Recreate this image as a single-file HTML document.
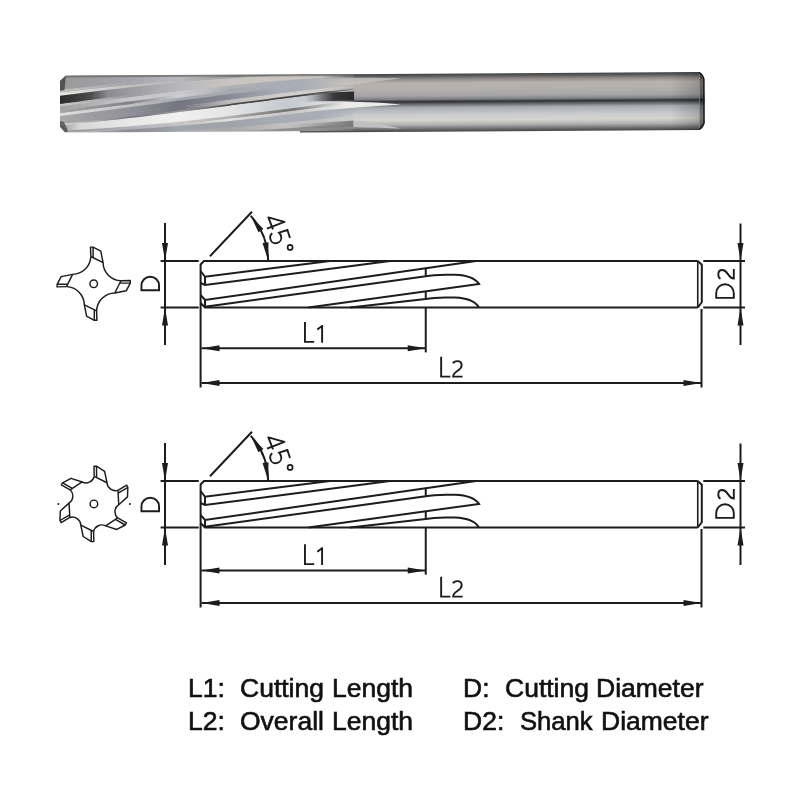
<!DOCTYPE html>
<html><head><meta charset="utf-8"><style>
html,body{margin:0;padding:0;background:#fff;width:800px;height:800px;overflow:hidden}
svg{display:block;position:absolute;left:0;top:0}
.w{position:absolute;font-family:"Liberation Sans",sans-serif;font-size:25px;white-space:pre;line-height:1;-webkit-text-stroke:0.6px #111;color:#111;transform-origin:0 0;transform:scaleX(1.06)}
</style></head><body>
<svg width="800" height="800" viewBox="0 0 800 800"><defs><linearGradient id="shank" gradientUnits="userSpaceOnUse" x1="0" y1="72" x2="0" y2="130" gradientTransform="matrix(1,-0.0065,0,1,0,4.54)">
<stop offset="0" stop-color="#404040"/>
<stop offset="0.04" stop-color="#5c5c5c"/>
<stop offset="0.09" stop-color="#8e8a88"/>
<stop offset="0.16" stop-color="#b8b2ac"/>
<stop offset="0.26" stop-color="#b4b0ae"/>
<stop offset="0.38" stop-color="#a4a4a8"/>
<stop offset="0.44" stop-color="#808084"/>
<stop offset="0.48" stop-color="#2e3034"/>
<stop offset="0.52" stop-color="#606468"/>
<stop offset="0.58" stop-color="#a8acb2"/>
<stop offset="0.70" stop-color="#c8cacc"/>
<stop offset="0.80" stop-color="#d6d4ce"/>
<stop offset="0.88" stop-color="#b0b0b0"/>
<stop offset="0.95" stop-color="#707070"/>
<stop offset="1" stop-color="#444"/>
</linearGradient>
<linearGradient id="endshade" gradientUnits="userSpaceOnUse" x1="670" y1="0" x2="699" y2="0"><stop offset="0" stop-color="#000" stop-opacity="0"/><stop offset="1" stop-color="#000" stop-opacity="0.18"/></linearGradient>
<linearGradient id="pocketR" gradientUnits="userSpaceOnUse" x1="305" y1="0" x2="353.6" y2="0">
<stop offset="0" stop-color="#8a8a90" stop-opacity="0"/>
<stop offset="0.35" stop-color="#606064" stop-opacity="0.8"/>
<stop offset="0.6" stop-color="#383838"/>
<stop offset="1" stop-color="#2a2a2a"/>
</linearGradient>
<linearGradient id="lowstep" gradientUnits="userSpaceOnUse" x1="290" y1="0" x2="353.6" y2="0">
<stop offset="0" stop-color="#808080" stop-opacity="0"/>
<stop offset="1" stop-color="#7a7a7a"/>
</linearGradient>
<clipPath id="flclip"><path d="M65.9,75.4 L353.6,74 L353.6,130.8 L65,132.6 L60,127 L60,80.7 Z"/></clipPath>
<linearGradient id="fadeR" gradientUnits="userSpaceOnUse" x1="320" y1="0" x2="354" y2="0"><stop offset="0" stop-color="#fff"/><stop offset="1" stop-color="#fff" stop-opacity="0.25"/></linearGradient>
<mask id="flmask" maskUnits="userSpaceOnUse" x="50" y="60" width="320" height="80"><rect x="50" y="60" width="270" height="80" fill="#fff"/><rect x="320" y="60" width="40" height="80" fill="url(#fadeR)"/></mask>
<filter id="soft" x="-5%" y="-20%" width="110%" height="140%"><feGaussianBlur stdDeviation="0.5"/></filter>
<linearGradient id="s0" gradientUnits="userSpaceOnUse" x1="56" y1="0" x2="358" y2="0"><stop offset="0.020" stop-color="#9a9a9a"/><stop offset="0.245" stop-color="#a4a4ac"/><stop offset="0.411" stop-color="#b8b8bc"/><stop offset="0.576" stop-color="#a8a8a8"/></linearGradient><linearGradient id="s1" gradientUnits="userSpaceOnUse" x1="56" y1="0" x2="358" y2="0"><stop offset="0.020" stop-color="#c0c0c0"/><stop offset="0.245" stop-color="#a4a4ac"/><stop offset="0.411" stop-color="#b8b8bc"/><stop offset="0.576" stop-color="#8a8a8a"/></linearGradient><linearGradient id="s2" gradientUnits="userSpaceOnUse" x1="56" y1="0" x2="358" y2="0"><stop offset="0.020" stop-color="#e8e4de"/><stop offset="0.146" stop-color="#d0d0d0"/><stop offset="0.245" stop-color="#c0c0c0"/><stop offset="0.411" stop-color="#b8b8bc"/><stop offset="0.576" stop-color="#a0a0a0"/></linearGradient><linearGradient id="s3" gradientUnits="userSpaceOnUse" x1="56" y1="0" x2="358" y2="0"><stop offset="0.013" stop-color="#2a2a2a"/><stop offset="0.046" stop-color="#343434"/><stop offset="0.113" stop-color="#4a4a4a"/><stop offset="0.172" stop-color="#8a8a90"/><stop offset="0.245" stop-color="#9a9aa0"/><stop offset="0.411" stop-color="#b8b8bc"/><stop offset="0.576" stop-color="#c8c4c0"/><stop offset="0.742" stop-color="#c8c4c0"/></linearGradient><linearGradient id="s4" gradientUnits="userSpaceOnUse" x1="56" y1="0" x2="358" y2="0"><stop offset="0.020" stop-color="#c8c8c8"/><stop offset="0.245" stop-color="#9a9aa0"/><stop offset="0.411" stop-color="#b8b8bc"/><stop offset="0.576" stop-color="#c8c4c0"/><stop offset="0.742" stop-color="#c8c4c0"/></linearGradient><linearGradient id="s5" gradientUnits="userSpaceOnUse" x1="56" y1="0" x2="358" y2="0"><stop offset="0.020" stop-color="#a0a0a0"/><stop offset="0.245" stop-color="#c8c8cc"/><stop offset="0.411" stop-color="#c8c8cc"/><stop offset="0.576" stop-color="#b0b0b8"/><stop offset="0.742" stop-color="#a8acb4"/></linearGradient><linearGradient id="s6" gradientUnits="userSpaceOnUse" x1="56" y1="0" x2="358" y2="0"><stop offset="0.020" stop-color="#a4a4a4"/><stop offset="0.245" stop-color="#808088"/><stop offset="0.411" stop-color="#d0d0d0"/><stop offset="0.576" stop-color="#a8a8b0"/><stop offset="0.742" stop-color="#a8acb4"/></linearGradient><linearGradient id="s7" gradientUnits="userSpaceOnUse" x1="56" y1="0" x2="358" y2="0"><stop offset="0.020" stop-color="#e0e0e0"/><stop offset="0.245" stop-color="#c0c0c0"/><stop offset="0.411" stop-color="#a0a8b0"/><stop offset="0.576" stop-color="#a8a8b0"/><stop offset="0.742" stop-color="#a8acb4"/></linearGradient><linearGradient id="s8" gradientUnits="userSpaceOnUse" x1="56" y1="0" x2="358" y2="0"><stop offset="0.020" stop-color="#a8a8a8"/><stop offset="0.245" stop-color="#909098"/><stop offset="0.411" stop-color="#74747e"/><stop offset="0.576" stop-color="#8a8a98"/><stop offset="0.742" stop-color="#a8acb4"/></linearGradient><linearGradient id="s9" gradientUnits="userSpaceOnUse" x1="56" y1="0" x2="358" y2="0"><stop offset="0.020" stop-color="#a8a8a8"/><stop offset="0.245" stop-color="#909098"/><stop offset="0.411" stop-color="#74747e"/><stop offset="0.576" stop-color="#c0bcb8"/><stop offset="0.742" stop-color="#d0ccc8"/></linearGradient><linearGradient id="s10" gradientUnits="userSpaceOnUse" x1="56" y1="0" x2="358" y2="0"><stop offset="0.020" stop-color="#e0e0e0"/><stop offset="0.146" stop-color="#a0a0a0"/><stop offset="0.245" stop-color="#70707a"/><stop offset="0.411" stop-color="#989898"/><stop offset="0.576" stop-color="#484848"/><stop offset="0.742" stop-color="#404048"/></linearGradient><linearGradient id="s11" gradientUnits="userSpaceOnUse" x1="56" y1="0" x2="358" y2="0"><stop offset="0.020" stop-color="#a0a0a0"/><stop offset="0.079" stop-color="#d8d8d8"/><stop offset="0.245" stop-color="#e8e8e8"/><stop offset="0.411" stop-color="#f0f0f0"/><stop offset="0.576" stop-color="#e4e4e4"/><stop offset="0.742" stop-color="#c8ccd0"/></linearGradient><linearGradient id="s12" gradientUnits="userSpaceOnUse" x1="56" y1="0" x2="358" y2="0"><stop offset="0.020" stop-color="#909090"/><stop offset="0.245" stop-color="#b0b0b8"/><stop offset="0.411" stop-color="#c8c8c8"/><stop offset="0.576" stop-color="#b0b0b0"/><stop offset="0.742" stop-color="#787878"/></linearGradient><linearGradient id="s13" gradientUnits="userSpaceOnUse" x1="56" y1="0" x2="358" y2="0"><stop offset="0.020" stop-color="#a0a0a0"/><stop offset="0.245" stop-color="#b0b0b8"/><stop offset="0.411" stop-color="#c0c0c0"/><stop offset="0.576" stop-color="#e0e0e0"/><stop offset="0.742" stop-color="#c8c8c8"/></linearGradient><linearGradient id="s14" gradientUnits="userSpaceOnUse" x1="56" y1="0" x2="358" y2="0"><stop offset="0.020" stop-color="#d0d0d0"/><stop offset="0.245" stop-color="#8a8a92"/><stop offset="0.411" stop-color="#a0a4ac"/><stop offset="0.576" stop-color="#a0a4a8"/><stop offset="0.742" stop-color="#a8acb4"/></linearGradient><linearGradient id="s15" gradientUnits="userSpaceOnUse" x1="56" y1="0" x2="358" y2="0"><stop offset="0.020" stop-color="#c0c0c0"/><stop offset="0.245" stop-color="#707078"/><stop offset="0.411" stop-color="#b0b0b0"/><stop offset="0.576" stop-color="#a8a8a8"/><stop offset="0.742" stop-color="#c0c0c0"/></linearGradient><linearGradient id="s16" gradientUnits="userSpaceOnUse" x1="56" y1="0" x2="358" y2="0"><stop offset="0.020" stop-color="#a0a0a0"/><stop offset="0.245" stop-color="#606068"/><stop offset="0.411" stop-color="#a0a0a0"/><stop offset="0.576" stop-color="#a0a0a0"/><stop offset="0.742" stop-color="#909090"/></linearGradient></defs>
<path d="M300,74.6 L699,72 L704.5,79 L704.5,123 L699,130 L300,132.6 Z" fill="url(#shank)"/>
<rect x="670" y="72" width="29" height="58" fill="url(#endshade)"/>
<path d="M699,72 Q703,74.5 704.2,79 L704.5,123 Q703,127.5 699,130 Z" fill="url(#shank)"/>
<path d="M699,72 Q703,74.5 704.2,79 L704.5,123 Q703,127.5 699,130 Z" fill="#000" opacity="0.45"/>
<path d="M699.3,72.5 Q703,74.8 703.8,79 L704,123 Q703,127.2 699.3,129.5" fill="none" stroke="#1a1a1a" stroke-width="1.4"/>
<line x1="699.6" y1="74" x2="699.6" y2="128" stroke="#d0d0d0" stroke-width="0.8" opacity="0.5"/>
<g clip-path="url(#flclip)">
<g filter="url(#soft)">
<g mask="url(#flmask)"><path d="M56,75.87 L60,75.71 L64,75.56 L68,75.41 L72,75.28 L76,75.15 L80,75.03 L84,74.92 L88,74.82 L92,74.74 L96,74.65 L100,74.58 L104,74.52 L108,74.47 L112,74.43 L116,74.39 L120,74.37 L124,74.36 L128,74.35 L132,74.35 L136,74.35 L140,74.35 L144,74.35 L148,74.35 L152,74.35 L156,74.35 L160,74.35 L164,74.35 L168,74.35 L172,74.35 L176,74.35 L180,74.35 L184,74.35 L188,74.35 L192,74.35 L196,74.35 L200,74.35 L204,74.35 L208,74.35 L212,74.35 L216,74.35 L220,74.35 L224,74.35 L228,74.35 L232,74.35 L236,74.35 L240,74.35 L244,74.35 L248,74.35 L252,74.35 L256,74.35 L260,74.35 L264,74.35 L268,74.35 L272,74.35 L276,74.35 L280,74.35 L284,74.35 L288,74.35 L292,74.35 L296,74.35 L300,74.35 L304,74.35 L308,74.35 L312,74.35 L316,74.35 L320,74.35 L324,74.35 L328,74.35 L332,74.35 L336,74.35 L340,74.35 L344,74.35 L348,74.35 L352,74.35 L356,74.35 L358,74.35 L358,74.85 L356,74.85 L352,74.85 L348,74.85 L344,74.85 L340,74.85 L336,74.85 L332,74.85 L328,74.85 L324,74.85 L320,74.85 L316,74.85 L312,74.85 L308,74.85 L304,74.85 L300,74.85 L296,74.86 L292,74.88 L288,74.90 L284,74.94 L280,74.99 L276,75.04 L272,75.11 L268,75.18 L264,75.26 L260,75.36 L256,75.46 L252,75.57 L248,75.69 L244,75.82 L240,75.96 L236,76.11 L232,76.27 L228,76.43 L224,76.61 L220,76.79 L216,76.98 L212,77.18 L208,77.39 L204,77.61 L200,77.84 L196,78.08 L192,78.32 L188,78.57 L184,78.84 L180,79.10 L176,79.38 L172,79.67 L168,79.96 L164,80.26 L160,80.57 L156,80.89 L152,81.21 L148,81.54 L144,81.88 L140,82.22 L136,82.58 L132,82.94 L128,83.30 L124,83.68 L120,84.06 L116,84.44 L112,84.84 L108,85.23 L104,85.64 L100,86.05 L96,86.47 L92,86.89 L88,87.32 L84,87.75 L80,88.19 L76,88.63 L72,89.08 L68,89.54 L64,89.99 L60,90.46 L56,90.92Z" fill="url(#s0)"/><path d="M56,90.42 L60,89.96 L64,89.49 L68,89.04 L72,88.58 L76,88.13 L80,87.69 L84,87.25 L88,86.82 L92,86.39 L96,85.97 L100,85.55 L104,85.14 L108,84.73 L112,84.34 L116,83.94 L120,83.56 L124,83.18 L128,82.80 L132,82.44 L136,82.08 L140,81.72 L144,81.38 L148,81.04 L152,80.71 L156,80.39 L160,80.07 L164,79.76 L168,79.46 L172,79.17 L176,78.88 L180,78.60 L184,78.34 L188,78.07 L192,77.82 L196,77.58 L200,77.34 L204,77.11 L208,76.89 L212,76.68 L216,76.48 L220,76.29 L224,76.11 L228,75.93 L232,75.77 L236,75.61 L240,75.46 L244,75.32 L248,75.19 L252,75.07 L256,74.96 L260,74.86 L264,74.76 L268,74.68 L272,74.61 L276,74.54 L280,74.49 L284,74.44 L288,74.40 L292,74.38 L296,74.36 L300,74.35 L304,74.35 L308,74.35 L312,74.35 L316,74.35 L320,74.35 L324,74.35 L328,74.35 L332,74.35 L336,74.35 L340,74.35 L344,74.35 L348,74.35 L352,74.35 L356,74.35 L358,74.35 L358,74.85 L356,74.85 L352,74.85 L348,74.85 L344,74.85 L340,74.85 L336,74.85 L332,74.85 L328,74.85 L324,74.85 L320,74.86 L316,74.88 L312,74.91 L308,74.94 L304,74.99 L300,75.05 L296,75.11 L292,75.19 L288,75.27 L284,75.37 L280,75.47 L276,75.58 L272,75.71 L268,75.84 L264,75.98 L260,76.12 L256,76.28 L252,76.45 L248,76.63 L244,76.81 L240,77.00 L236,77.21 L232,77.42 L228,77.64 L224,77.87 L220,78.10 L216,78.35 L212,78.60 L208,78.86 L204,79.13 L200,79.41 L196,79.70 L192,79.99 L188,80.29 L184,80.60 L180,80.92 L176,81.25 L172,81.58 L168,81.92 L164,82.26 L160,82.62 L156,82.98 L152,83.34 L148,83.72 L144,84.10 L140,84.49 L136,84.88 L132,85.28 L128,85.68 L124,86.10 L120,86.51 L116,86.94 L112,87.37 L108,87.80 L104,88.24 L100,88.68 L96,89.13 L92,89.59 L88,90.05 L84,90.51 L80,90.98 L76,91.45 L72,91.93 L68,92.41 L64,92.89 L60,93.38 L56,93.87Z" fill="url(#s1)"/><path d="M56,93.37 L60,92.88 L64,92.39 L68,91.91 L72,91.43 L76,90.95 L80,90.48 L84,90.01 L88,89.55 L92,89.09 L96,88.63 L100,88.18 L104,87.74 L108,87.30 L112,86.87 L116,86.44 L120,86.01 L124,85.60 L128,85.18 L132,84.78 L136,84.38 L140,83.99 L144,83.60 L148,83.22 L152,82.84 L156,82.48 L160,82.12 L164,81.76 L168,81.42 L172,81.08 L176,80.75 L180,80.42 L184,80.10 L188,79.79 L192,79.49 L196,79.20 L200,78.91 L204,78.63 L208,78.36 L212,78.10 L216,77.85 L220,77.60 L224,77.37 L228,77.14 L232,76.92 L236,76.71 L240,76.50 L244,76.31 L248,76.13 L252,75.95 L256,75.78 L260,75.62 L264,75.48 L268,75.34 L272,75.21 L276,75.08 L280,74.97 L284,74.87 L288,74.77 L292,74.69 L296,74.61 L300,74.55 L304,74.49 L308,74.44 L312,74.41 L316,74.38 L320,74.36 L324,74.35 L328,74.35 L332,74.35 L336,74.35 L340,74.35 L344,74.35 L348,74.35 L352,74.35 L356,74.35 L358,74.35 L358,74.85 L356,74.85 L352,74.85 L348,74.85 L344,74.86 L340,74.87 L336,74.89 L332,74.93 L328,74.97 L324,75.02 L320,75.08 L316,75.15 L312,75.24 L308,75.32 L304,75.42 L300,75.53 L296,75.65 L292,75.78 L288,75.91 L284,76.06 L280,76.21 L276,76.37 L272,76.55 L268,76.73 L264,76.92 L260,77.12 L256,77.32 L252,77.54 L248,77.76 L244,78.00 L240,78.24 L236,78.49 L232,78.75 L228,79.01 L224,79.29 L220,79.57 L216,79.86 L212,80.16 L208,80.47 L204,80.78 L200,81.10 L196,81.43 L192,81.77 L188,82.11 L184,82.46 L180,82.82 L176,83.18 L172,83.55 L168,83.93 L164,84.31 L160,84.70 L156,85.10 L152,85.50 L148,85.91 L144,86.33 L140,86.75 L136,87.17 L132,87.61 L128,88.04 L124,88.48 L120,88.93 L116,89.38 L112,89.84 L108,90.30 L104,90.77 L100,91.24 L96,91.71 L92,92.19 L88,92.67 L84,93.16 L80,93.65 L76,94.14 L72,94.64 L68,95.14 L64,95.64 L60,96.14 L56,96.65Z" fill="url(#s2)"/><path d="M56,96.15 L60,95.64 L64,95.14 L68,94.64 L72,94.14 L76,93.64 L80,93.15 L84,92.66 L88,92.17 L92,91.69 L96,91.21 L100,90.74 L104,90.27 L108,89.80 L112,89.34 L116,88.88 L120,88.43 L124,87.98 L128,87.54 L132,87.11 L136,86.67 L140,86.25 L144,85.83 L148,85.41 L152,85.00 L156,84.60 L160,84.20 L164,83.81 L168,83.43 L172,83.05 L176,82.68 L180,82.32 L184,81.96 L188,81.61 L192,81.27 L196,80.93 L200,80.60 L204,80.28 L208,79.97 L212,79.66 L216,79.36 L220,79.07 L224,78.79 L228,78.51 L232,78.25 L236,77.99 L240,77.74 L244,77.50 L248,77.26 L252,77.04 L256,76.82 L260,76.62 L264,76.42 L268,76.23 L272,76.05 L276,75.87 L280,75.71 L284,75.56 L288,75.41 L292,75.28 L296,75.15 L300,75.03 L304,74.92 L308,74.82 L312,74.74 L316,74.65 L320,74.58 L324,74.52 L328,74.47 L332,74.43 L336,74.39 L340,74.37 L344,74.36 L348,74.35 L352,74.35 L356,74.35 L358,74.35 L358,75.73 L356,75.79 L352,75.93 L348,76.07 L344,76.23 L340,76.39 L336,76.57 L332,76.75 L328,76.94 L324,77.14 L320,77.35 L316,77.56 L312,77.79 L308,78.02 L304,78.27 L300,78.52 L296,78.78 L292,79.04 L288,79.32 L284,79.60 L280,79.89 L276,80.19 L272,80.50 L268,80.81 L264,81.14 L260,81.47 L256,81.80 L252,82.15 L248,82.50 L244,82.86 L240,83.22 L236,83.59 L232,83.97 L228,84.36 L224,84.75 L220,85.15 L216,85.55 L212,85.96 L208,86.37 L204,86.80 L200,87.22 L196,87.65 L192,88.09 L188,88.53 L184,88.98 L180,89.43 L176,89.89 L172,90.35 L168,90.82 L164,91.29 L160,91.77 L156,92.24 L152,92.73 L148,93.21 L144,93.70 L140,94.20 L136,94.69 L132,95.19 L128,95.69 L124,96.20 L120,96.71 L116,97.22 L112,97.73 L108,98.24 L104,98.76 L100,99.28 L96,99.80 L92,100.32 L88,100.84 L84,101.36 L80,101.89 L76,102.41 L72,102.93 L68,103.46 L64,103.99 L60,104.51 L56,105.04Z" fill="url(#s3)"/><path d="M56,104.54 L60,104.01 L64,103.49 L68,102.96 L72,102.43 L76,101.91 L80,101.39 L84,100.86 L88,100.34 L92,99.82 L96,99.30 L100,98.78 L104,98.26 L108,97.74 L112,97.23 L116,96.72 L120,96.21 L124,95.70 L128,95.19 L132,94.69 L136,94.19 L140,93.70 L144,93.20 L148,92.71 L152,92.23 L156,91.74 L160,91.27 L164,90.79 L168,90.32 L172,89.85 L176,89.39 L180,88.93 L184,88.48 L188,88.03 L192,87.59 L196,87.15 L200,86.72 L204,86.30 L208,85.87 L212,85.46 L216,85.05 L220,84.65 L224,84.25 L228,83.86 L232,83.47 L236,83.09 L240,82.72 L244,82.36 L248,82.00 L252,81.65 L256,81.30 L260,80.97 L264,80.64 L268,80.31 L272,80.00 L276,79.69 L280,79.39 L284,79.10 L288,78.82 L292,78.54 L296,78.28 L300,78.02 L304,77.77 L308,77.52 L312,77.29 L316,77.06 L320,76.85 L324,76.64 L328,76.44 L332,76.25 L336,76.07 L340,75.89 L344,75.73 L348,75.57 L352,75.43 L356,75.29 L358,75.23 L358,76.38 L356,76.47 L352,76.65 L348,76.83 L344,77.03 L340,77.23 L336,77.44 L332,77.66 L328,77.89 L324,78.13 L320,78.38 L316,78.63 L312,78.89 L308,79.17 L304,79.44 L300,79.73 L296,80.03 L292,80.33 L288,80.64 L284,80.96 L280,81.28 L276,81.62 L272,81.96 L268,82.30 L264,82.66 L260,83.02 L256,83.39 L252,83.76 L248,84.14 L244,84.53 L240,84.92 L236,85.32 L232,85.73 L228,86.14 L224,86.56 L220,86.98 L216,87.41 L212,87.85 L208,88.29 L204,88.73 L200,89.18 L196,89.64 L192,90.10 L188,90.56 L184,91.03 L180,91.50 L176,91.98 L172,92.46 L168,92.94 L164,93.43 L160,93.92 L156,94.42 L152,94.91 L148,95.42 L144,95.92 L140,96.42 L136,96.93 L132,97.44 L128,97.96 L124,98.47 L120,98.99 L116,99.51 L112,100.03 L108,100.55 L104,101.07 L100,101.59 L96,102.12 L92,102.64 L88,103.17 L84,103.69 L80,104.22 L76,104.74 L72,105.27 L68,105.80 L64,106.32 L60,106.84 L56,107.37Z" fill="url(#s4)"/><path d="M56,106.87 L60,106.34 L64,105.82 L68,105.30 L72,104.77 L76,104.24 L80,103.72 L84,103.19 L88,102.67 L92,102.14 L96,101.62 L100,101.09 L104,100.57 L108,100.05 L112,99.53 L116,99.01 L120,98.49 L124,97.97 L128,97.46 L132,96.94 L136,96.43 L140,95.92 L144,95.42 L148,94.92 L152,94.41 L156,93.92 L160,93.42 L164,92.93 L168,92.44 L172,91.96 L176,91.48 L180,91.00 L184,90.53 L188,90.06 L192,89.60 L196,89.14 L200,88.68 L204,88.23 L208,87.79 L212,87.35 L216,86.91 L220,86.48 L224,86.06 L228,85.64 L232,85.23 L236,84.82 L240,84.42 L244,84.03 L248,83.64 L252,83.26 L256,82.89 L260,82.52 L264,82.16 L268,81.80 L272,81.46 L276,81.12 L280,80.78 L284,80.46 L288,80.14 L292,79.83 L296,79.53 L300,79.23 L304,78.94 L308,78.67 L312,78.39 L316,78.13 L320,77.88 L324,77.63 L328,77.39 L332,77.16 L336,76.94 L340,76.73 L344,76.53 L348,76.33 L352,76.15 L356,75.97 L358,75.88 L358,77.96 L356,78.08 L352,78.32 L348,78.57 L344,78.84 L340,79.10 L336,79.38 L332,79.67 L328,79.96 L324,80.26 L320,80.57 L316,80.89 L312,81.21 L308,81.54 L304,81.88 L300,82.22 L296,82.58 L292,82.94 L288,83.30 L284,83.68 L280,84.06 L276,84.44 L272,84.84 L268,85.23 L264,85.64 L260,86.05 L256,86.47 L252,86.89 L248,87.32 L244,87.75 L240,88.19 L236,88.63 L232,89.08 L228,89.54 L224,89.99 L220,90.46 L216,90.92 L212,91.40 L208,91.87 L204,92.35 L200,92.84 L196,93.32 L192,93.81 L188,94.31 L184,94.80 L180,95.30 L176,95.81 L172,96.31 L168,96.82 L164,97.33 L160,97.84 L156,98.36 L152,98.87 L148,99.39 L144,99.91 L140,100.43 L136,100.95 L132,101.48 L128,102.00 L124,102.53 L120,103.05 L116,103.58 L112,104.10 L108,104.63 L104,105.15 L100,105.68 L96,106.20 L92,106.73 L88,107.25 L84,107.77 L80,108.29 L76,108.81 L72,109.33 L68,109.85 L64,110.36 L60,110.87 L56,111.38Z" fill="url(#s5)"/><path d="M56,110.88 L60,110.37 L64,109.86 L68,109.35 L72,108.83 L76,108.31 L80,107.79 L84,107.27 L88,106.75 L92,106.23 L96,105.70 L100,105.18 L104,104.65 L108,104.13 L112,103.60 L116,103.08 L120,102.55 L124,102.03 L128,101.50 L132,100.98 L136,100.45 L140,99.93 L144,99.41 L148,98.89 L152,98.37 L156,97.86 L160,97.34 L164,96.83 L168,96.32 L172,95.81 L176,95.31 L180,94.80 L184,94.30 L188,93.81 L192,93.31 L196,92.82 L200,92.34 L204,91.85 L208,91.37 L212,90.90 L216,90.42 L220,89.96 L224,89.49 L228,89.04 L232,88.58 L236,88.13 L240,87.69 L244,87.25 L248,86.82 L252,86.39 L256,85.97 L260,85.55 L264,85.14 L268,84.73 L272,84.34 L276,83.94 L280,83.56 L284,83.18 L288,82.80 L292,82.44 L296,82.08 L300,81.72 L304,81.38 L308,81.04 L312,80.71 L316,80.39 L320,80.07 L324,79.76 L328,79.46 L332,79.17 L336,78.88 L340,78.60 L344,78.34 L348,78.07 L352,77.82 L356,77.58 L358,77.46 L358,79.40 L356,79.54 L352,79.83 L348,80.13 L344,80.43 L340,80.74 L336,81.06 L332,81.39 L328,81.73 L324,82.07 L320,82.42 L316,82.78 L312,83.14 L308,83.51 L304,83.89 L300,84.27 L296,84.66 L292,85.06 L288,85.46 L284,85.87 L280,86.28 L276,86.70 L272,87.13 L268,87.56 L264,87.99 L260,88.44 L256,88.88 L252,89.33 L248,89.79 L244,90.25 L240,90.72 L236,91.19 L232,91.66 L228,92.14 L224,92.62 L220,93.11 L216,93.59 L212,94.09 L208,94.58 L204,95.08 L200,95.58 L196,96.09 L192,96.59 L188,97.10 L184,97.61 L180,98.13 L176,98.64 L172,99.16 L168,99.68 L164,100.20 L160,100.72 L156,101.25 L152,101.77 L148,102.29 L144,102.82 L140,103.34 L136,103.87 L132,104.39 L128,104.92 L124,105.45 L120,105.97 L116,106.49 L112,107.02 L108,107.54 L104,108.06 L100,108.58 L96,109.10 L92,109.62 L88,110.13 L84,110.64 L80,111.16 L76,111.66 L72,112.17 L68,112.67 L64,113.17 L60,113.67 L56,114.17Z" fill="url(#s6)"/><path d="M56,113.67 L60,113.17 L64,112.67 L68,112.17 L72,111.67 L76,111.16 L80,110.66 L84,110.14 L88,109.63 L92,109.12 L96,108.60 L100,108.08 L104,107.56 L108,107.04 L112,106.52 L116,105.99 L120,105.47 L124,104.95 L128,104.42 L132,103.89 L136,103.37 L140,102.84 L144,102.32 L148,101.79 L152,101.27 L156,100.75 L160,100.22 L164,99.70 L168,99.18 L172,98.66 L176,98.14 L180,97.63 L184,97.11 L188,96.60 L192,96.09 L196,95.59 L200,95.08 L204,94.58 L208,94.08 L212,93.59 L216,93.09 L220,92.61 L224,92.12 L228,91.64 L232,91.16 L236,90.69 L240,90.22 L244,89.75 L248,89.29 L252,88.83 L256,88.38 L260,87.94 L264,87.49 L268,87.06 L272,86.63 L276,86.20 L280,85.78 L284,85.37 L288,84.96 L292,84.56 L296,84.16 L300,83.77 L304,83.39 L308,83.01 L312,82.64 L316,82.28 L320,81.92 L324,81.57 L328,81.23 L332,80.89 L336,80.56 L340,80.24 L344,79.93 L348,79.63 L352,79.33 L356,79.04 L358,78.90 L358,81.08 L356,81.25 L352,81.58 L348,81.92 L344,82.26 L340,82.62 L336,82.98 L332,83.34 L328,83.72 L324,84.10 L320,84.49 L316,84.88 L312,85.28 L308,85.68 L304,86.10 L300,86.51 L296,86.94 L292,87.37 L288,87.80 L284,88.24 L280,88.68 L276,89.13 L272,89.59 L268,90.05 L264,90.51 L260,90.98 L256,91.45 L252,91.93 L248,92.41 L244,92.89 L240,93.38 L236,93.87 L232,94.36 L228,94.86 L224,95.36 L220,95.86 L216,96.37 L212,96.88 L208,97.39 L204,97.90 L200,98.41 L196,98.93 L192,99.45 L188,99.97 L184,100.49 L180,101.01 L176,101.54 L172,102.06 L168,102.58 L164,103.11 L160,103.64 L156,104.16 L152,104.69 L148,105.21 L144,105.74 L140,106.26 L136,106.78 L132,107.31 L128,107.83 L124,108.35 L120,108.87 L116,109.39 L112,109.90 L108,110.42 L104,110.93 L100,111.44 L96,111.95 L92,112.45 L88,112.95 L84,113.45 L80,113.95 L76,114.44 L72,114.93 L68,115.42 L64,115.90 L60,116.38 L56,116.85Z" fill="url(#s7)"/><path d="M56,116.35 L60,115.88 L64,115.40 L68,114.92 L72,114.43 L76,113.94 L80,113.45 L84,112.95 L88,112.45 L92,111.95 L96,111.45 L100,110.94 L104,110.43 L108,109.92 L112,109.40 L116,108.89 L120,108.37 L124,107.85 L128,107.33 L132,106.81 L136,106.28 L140,105.76 L144,105.24 L148,104.71 L152,104.19 L156,103.66 L160,103.14 L164,102.61 L168,102.08 L172,101.56 L176,101.04 L180,100.51 L184,99.99 L188,99.47 L192,98.95 L196,98.43 L200,97.91 L204,97.40 L208,96.89 L212,96.38 L216,95.87 L220,95.36 L224,94.86 L228,94.36 L232,93.86 L236,93.37 L240,92.88 L244,92.39 L248,91.91 L252,91.43 L256,90.95 L260,90.48 L264,90.01 L268,89.55 L272,89.09 L276,88.63 L280,88.18 L284,87.74 L288,87.30 L292,86.87 L296,86.44 L300,86.01 L304,85.60 L308,85.18 L312,84.78 L316,84.38 L320,83.99 L324,83.60 L328,83.22 L332,82.84 L336,82.48 L340,82.12 L344,81.76 L348,81.42 L352,81.08 L356,80.75 L358,80.58 L358,85.12 L356,85.32 L352,85.73 L348,86.14 L344,86.56 L340,86.98 L336,87.41 L332,87.85 L328,88.29 L324,88.73 L320,89.18 L316,89.64 L312,90.10 L308,90.56 L304,91.03 L300,91.50 L296,91.98 L292,92.46 L288,92.94 L284,93.43 L280,93.92 L276,94.42 L272,94.91 L268,95.42 L264,95.92 L260,96.42 L256,96.93 L252,97.44 L248,97.96 L244,98.47 L240,98.99 L236,99.51 L232,100.03 L228,100.55 L224,101.07 L220,101.59 L216,102.12 L212,102.64 L208,103.17 L204,103.69 L200,104.22 L196,104.74 L192,105.27 L188,105.80 L184,106.32 L180,106.84 L176,107.37 L172,107.89 L168,108.41 L164,108.93 L160,109.44 L156,109.96 L152,110.47 L148,110.99 L144,111.49 L140,112.00 L136,112.51 L132,113.01 L128,113.51 L124,114.00 L120,114.49 L116,114.98 L112,115.47 L108,115.95 L104,116.43 L100,116.90 L96,117.37 L92,117.84 L88,118.30 L84,118.76 L80,119.21 L76,119.65 L72,120.10 L68,120.53 L64,120.96 L60,121.39 L56,121.81Z" fill="url(#s8)"/><path d="M56,121.31 L60,120.89 L64,120.46 L68,120.03 L72,119.60 L76,119.15 L80,118.71 L84,118.26 L88,117.80 L92,117.34 L96,116.87 L100,116.40 L104,115.93 L108,115.45 L112,114.97 L116,114.48 L120,113.99 L124,113.50 L128,113.01 L132,112.51 L136,112.01 L140,111.50 L144,110.99 L148,110.49 L152,109.97 L156,109.46 L160,108.94 L164,108.43 L168,107.91 L172,107.39 L176,106.87 L180,106.34 L184,105.82 L188,105.30 L192,104.77 L196,104.24 L200,103.72 L204,103.19 L208,102.67 L212,102.14 L216,101.62 L220,101.09 L224,100.57 L228,100.05 L232,99.53 L236,99.01 L240,98.49 L244,97.97 L248,97.46 L252,96.94 L256,96.43 L260,95.92 L264,95.42 L268,94.92 L272,94.41 L276,93.92 L280,93.42 L284,92.93 L288,92.44 L292,91.96 L296,91.48 L300,91.00 L304,90.53 L308,90.06 L312,89.60 L316,89.14 L320,88.68 L324,88.23 L328,87.79 L332,87.35 L336,86.91 L340,86.48 L344,86.06 L348,85.64 L352,85.23 L356,84.82 L358,84.62 L358,88.41 L356,88.63 L352,89.08 L348,89.54 L344,89.99 L340,90.46 L336,90.92 L332,91.40 L328,91.87 L324,92.35 L320,92.84 L316,93.32 L312,93.81 L308,94.31 L304,94.80 L300,95.30 L296,95.81 L292,96.31 L288,96.82 L284,97.33 L280,97.84 L276,98.36 L272,98.87 L268,99.39 L264,99.91 L260,100.43 L256,100.95 L252,101.48 L248,102.00 L244,102.53 L240,103.05 L236,103.58 L232,104.10 L228,104.63 L224,105.15 L220,105.68 L216,106.20 L212,106.73 L208,107.25 L204,107.77 L200,108.29 L196,108.81 L192,109.33 L188,109.85 L184,110.36 L180,110.87 L176,111.38 L172,111.89 L168,112.39 L164,112.90 L160,113.40 L156,113.89 L152,114.39 L148,114.88 L144,115.36 L140,115.84 L136,116.32 L132,116.80 L128,117.27 L124,117.74 L120,118.20 L116,118.65 L112,119.11 L108,119.56 L104,120.00 L100,120.44 L96,120.87 L92,121.30 L88,121.72 L84,122.13 L80,122.54 L76,122.95 L72,123.34 L68,123.73 L64,124.12 L60,124.50 L56,124.87Z" fill="url(#s9)"/><path d="M56,124.37 L60,124.00 L64,123.62 L68,123.23 L72,122.84 L76,122.45 L80,122.04 L84,121.63 L88,121.22 L92,120.80 L96,120.37 L100,119.94 L104,119.50 L108,119.06 L112,118.61 L116,118.15 L120,117.70 L124,117.24 L128,116.77 L132,116.30 L136,115.82 L140,115.34 L144,114.86 L148,114.38 L152,113.89 L156,113.39 L160,112.90 L164,112.40 L168,111.89 L172,111.39 L176,110.88 L180,110.37 L184,109.86 L188,109.35 L192,108.83 L196,108.31 L200,107.79 L204,107.27 L208,106.75 L212,106.23 L216,105.70 L220,105.18 L224,104.65 L228,104.13 L232,103.60 L236,103.08 L240,102.55 L244,102.03 L248,101.50 L252,100.98 L256,100.45 L260,99.93 L264,99.41 L268,98.89 L272,98.37 L276,97.86 L280,97.34 L284,96.83 L288,96.32 L292,95.81 L296,95.31 L300,94.80 L304,94.30 L308,93.81 L312,93.31 L316,92.82 L320,92.34 L324,91.85 L328,91.37 L332,90.90 L336,90.42 L340,89.96 L344,89.49 L348,89.04 L352,88.58 L356,88.13 L358,87.91 L358,89.92 L356,90.15 L352,90.61 L348,91.08 L344,91.55 L340,92.03 L336,92.51 L332,93.00 L328,93.49 L324,93.98 L320,94.47 L316,94.97 L312,95.47 L308,95.97 L304,96.48 L300,96.99 L296,97.50 L292,98.01 L288,98.53 L284,99.05 L280,99.57 L276,100.09 L272,100.61 L268,101.13 L264,101.65 L260,102.18 L256,102.70 L252,103.23 L248,103.75 L244,104.28 L240,104.80 L236,105.33 L232,105.85 L228,106.38 L224,106.90 L220,107.42 L216,107.95 L212,108.47 L208,108.98 L204,109.50 L200,110.02 L196,110.53 L192,111.04 L188,111.55 L184,112.06 L180,112.56 L176,113.06 L172,113.56 L168,114.06 L164,114.55 L160,115.04 L156,115.52 L152,116.00 L148,116.48 L144,116.96 L140,117.42 L136,117.89 L132,118.35 L128,118.81 L124,119.26 L120,119.70 L116,120.14 L112,120.58 L108,121.01 L104,121.44 L100,121.86 L96,122.27 L92,122.68 L88,123.08 L84,123.47 L80,123.86 L76,124.25 L72,124.62 L68,124.99 L64,125.36 L60,125.71 L56,126.06Z" fill="url(#s10)"/><path d="M56,125.56 L60,125.21 L64,124.86 L68,124.49 L72,124.12 L76,123.75 L80,123.36 L84,122.97 L88,122.58 L92,122.18 L96,121.77 L100,121.36 L104,120.94 L108,120.51 L112,120.08 L116,119.64 L120,119.20 L124,118.76 L128,118.31 L132,117.85 L136,117.39 L140,116.92 L144,116.46 L148,115.98 L152,115.50 L156,115.02 L160,114.54 L164,114.05 L168,113.56 L172,113.06 L176,112.56 L180,112.06 L184,111.56 L188,111.05 L192,110.54 L196,110.03 L200,109.52 L204,109.00 L208,108.48 L212,107.97 L216,107.45 L220,106.92 L224,106.40 L228,105.88 L232,105.35 L236,104.83 L240,104.30 L244,103.78 L248,103.25 L252,102.73 L256,102.20 L260,101.68 L264,101.15 L268,100.63 L272,100.11 L276,99.59 L280,99.07 L284,98.55 L288,98.03 L292,97.51 L296,97.00 L300,96.49 L304,95.98 L308,95.47 L312,94.97 L316,94.47 L320,93.97 L324,93.48 L328,92.99 L332,92.50 L336,92.01 L340,91.53 L344,91.05 L348,90.58 L352,90.11 L356,89.65 L358,89.42 L358,100.11 L356,100.37 L352,100.90 L348,101.42 L344,101.94 L340,102.47 L336,102.99 L332,103.52 L328,104.04 L324,104.57 L320,105.10 L316,105.62 L312,106.14 L308,106.67 L304,107.19 L300,107.71 L296,108.23 L292,108.75 L288,109.27 L284,109.79 L280,110.30 L276,110.81 L272,111.33 L268,111.83 L264,112.34 L260,112.84 L256,113.34 L252,113.84 L248,114.33 L244,114.82 L240,115.31 L236,115.79 L232,116.27 L228,116.75 L224,117.22 L220,117.68 L216,118.15 L212,118.60 L208,119.06 L204,119.51 L200,119.95 L196,120.39 L192,120.82 L188,121.25 L184,121.67 L180,122.09 L176,122.50 L172,122.90 L168,123.30 L164,123.69 L160,124.08 L156,124.46 L152,124.83 L148,125.20 L144,125.55 L140,125.91 L136,126.25 L132,126.59 L128,126.92 L124,127.24 L120,127.56 L116,127.87 L112,128.17 L108,128.46 L104,128.74 L100,129.02 L96,129.29 L92,129.55 L88,129.80 L84,130.04 L80,130.28 L76,130.51 L72,130.72 L68,130.93 L64,131.13 L60,131.33 L56,131.51Z" fill="url(#s11)"/><path d="M56,131.01 L60,130.83 L64,130.63 L68,130.43 L72,130.22 L76,130.01 L80,129.78 L84,129.54 L88,129.30 L92,129.05 L96,128.79 L100,128.52 L104,128.24 L108,127.96 L112,127.67 L116,127.37 L120,127.06 L124,126.74 L128,126.42 L132,126.09 L136,125.75 L140,125.41 L144,125.05 L148,124.70 L152,124.33 L156,123.96 L160,123.58 L164,123.19 L168,122.80 L172,122.40 L176,122.00 L180,121.59 L184,121.17 L188,120.75 L192,120.32 L196,119.89 L200,119.45 L204,119.01 L208,118.56 L212,118.10 L216,117.65 L220,117.18 L224,116.72 L228,116.25 L232,115.77 L236,115.29 L240,114.81 L244,114.32 L248,113.83 L252,113.34 L256,112.84 L260,112.34 L264,111.84 L268,111.33 L272,110.83 L276,110.31 L280,109.80 L284,109.29 L288,108.77 L292,108.25 L296,107.73 L300,107.21 L304,106.69 L308,106.17 L312,105.64 L316,105.12 L320,104.60 L324,104.07 L328,103.54 L332,103.02 L336,102.49 L340,101.97 L344,101.44 L348,100.92 L352,100.40 L356,99.87 L358,99.61 L358,103.02 L356,103.28 L352,103.81 L348,104.34 L344,104.86 L340,105.39 L336,105.91 L332,106.44 L328,106.96 L324,107.48 L320,108.00 L316,108.52 L312,109.04 L308,109.56 L304,110.07 L300,110.59 L296,111.10 L292,111.61 L288,112.11 L284,112.62 L280,113.12 L276,113.62 L272,114.11 L268,114.60 L264,115.09 L260,115.58 L256,116.06 L252,116.53 L248,117.01 L244,117.48 L240,117.94 L236,118.40 L232,118.86 L228,119.31 L224,119.75 L220,120.19 L216,120.63 L212,121.06 L208,121.48 L204,121.90 L200,122.32 L196,122.72 L192,123.12 L188,123.52 L184,123.91 L180,124.29 L176,124.66 L172,125.03 L168,125.40 L164,125.75 L160,126.10 L156,126.44 L152,126.77 L148,127.10 L144,127.42 L140,127.73 L136,128.03 L132,128.33 L128,128.62 L124,128.90 L120,129.17 L116,129.43 L112,129.69 L108,129.94 L104,130.18 L100,130.41 L96,130.63 L92,130.84 L88,131.05 L84,131.24 L80,131.43 L76,131.61 L72,131.78 L68,131.94 L64,132.09 L60,132.23 L56,132.36Z" fill="url(#s12)"/><path d="M56,131.86 L60,131.73 L64,131.59 L68,131.44 L72,131.28 L76,131.11 L80,130.93 L84,130.74 L88,130.55 L92,130.34 L96,130.13 L100,129.91 L104,129.68 L108,129.44 L112,129.19 L116,128.93 L120,128.67 L124,128.40 L128,128.12 L132,127.83 L136,127.53 L140,127.23 L144,126.92 L148,126.60 L152,126.27 L156,125.94 L160,125.60 L164,125.25 L168,124.90 L172,124.53 L176,124.16 L180,123.79 L184,123.41 L188,123.02 L192,122.62 L196,122.22 L200,121.82 L204,121.40 L208,120.98 L212,120.56 L216,120.13 L220,119.69 L224,119.25 L228,118.81 L232,118.36 L236,117.90 L240,117.44 L244,116.98 L248,116.51 L252,116.03 L256,115.56 L260,115.08 L264,114.59 L268,114.10 L272,113.61 L276,113.12 L280,112.62 L284,112.12 L288,111.61 L292,111.11 L296,110.60 L300,110.09 L304,109.57 L308,109.06 L312,108.54 L316,108.02 L320,107.50 L324,106.98 L328,106.46 L332,105.94 L336,105.41 L340,104.89 L344,104.36 L348,103.84 L352,103.31 L356,102.78 L358,102.52 L358,105.94 L356,106.20 L352,106.73 L348,107.25 L344,107.77 L340,108.29 L336,108.81 L332,109.33 L328,109.85 L324,110.36 L320,110.87 L316,111.38 L312,111.89 L308,112.39 L304,112.90 L300,113.40 L296,113.89 L292,114.39 L288,114.88 L284,115.36 L280,115.84 L276,116.32 L272,116.80 L268,117.27 L264,117.74 L260,118.20 L256,118.65 L252,119.11 L248,119.56 L244,120.00 L240,120.44 L236,120.87 L232,121.30 L228,121.72 L224,122.13 L220,122.54 L216,122.95 L212,123.34 L208,123.73 L204,124.12 L200,124.50 L196,124.87 L192,125.24 L188,125.59 L184,125.94 L180,126.29 L176,126.63 L172,126.96 L168,127.28 L164,127.59 L160,127.90 L156,128.20 L152,128.49 L148,128.77 L144,129.05 L140,129.32 L136,129.58 L132,129.83 L128,130.07 L124,130.30 L120,130.53 L116,130.75 L112,130.96 L108,131.16 L104,131.35 L100,131.53 L96,131.70 L92,131.87 L88,132.02 L84,132.17 L80,132.31 L76,132.43 L72,132.55 L68,132.66 L64,132.76 L60,132.85 L56,132.94Z" fill="url(#s13)"/><path d="M56,132.44 L60,132.35 L64,132.26 L68,132.16 L72,132.05 L76,131.93 L80,131.81 L84,131.67 L88,131.52 L92,131.37 L96,131.20 L100,131.03 L104,130.85 L108,130.66 L112,130.46 L116,130.25 L120,130.03 L124,129.80 L128,129.57 L132,129.33 L136,129.08 L140,128.82 L144,128.55 L148,128.27 L152,127.99 L156,127.70 L160,127.40 L164,127.09 L168,126.78 L172,126.46 L176,126.13 L180,125.79 L184,125.44 L188,125.09 L192,124.74 L196,124.37 L200,124.00 L204,123.62 L208,123.23 L212,122.84 L216,122.45 L220,122.04 L224,121.63 L228,121.22 L232,120.80 L236,120.37 L240,119.94 L244,119.50 L248,119.06 L252,118.61 L256,118.15 L260,117.70 L264,117.24 L268,116.77 L272,116.30 L276,115.82 L280,115.34 L284,114.86 L288,114.38 L292,113.89 L296,113.39 L300,112.90 L304,112.40 L308,111.89 L312,111.39 L316,110.88 L320,110.37 L324,109.86 L328,109.35 L332,108.83 L336,108.31 L340,107.79 L344,107.27 L348,106.75 L352,106.23 L356,105.70 L358,105.44 L358,115.28 L356,115.52 L352,116.00 L348,116.48 L344,116.96 L340,117.42 L336,117.89 L332,118.35 L328,118.81 L324,119.26 L320,119.70 L316,120.14 L312,120.58 L308,121.01 L304,121.44 L300,121.86 L296,122.27 L292,122.68 L288,123.08 L284,123.47 L280,123.86 L276,124.25 L272,124.62 L268,124.99 L264,125.36 L260,125.71 L256,126.06 L252,126.40 L248,126.74 L244,127.06 L240,127.38 L236,127.70 L232,128.00 L228,128.30 L224,128.59 L220,128.87 L216,129.14 L212,129.40 L208,129.66 L204,129.91 L200,130.15 L196,130.38 L192,130.60 L188,130.82 L184,131.02 L180,131.22 L176,131.41 L172,131.59 L168,131.76 L164,131.92 L160,132.07 L156,132.22 L152,132.35 L148,132.47 L144,132.59 L140,132.70 L136,132.79 L132,132.88 L128,132.96 L124,133.03 L120,133.09 L116,133.14 L112,133.18 L108,133.21 L104,133.23 L100,133.25 L96,133.25 L92,133.25 L88,133.25 L84,133.25 L80,133.25 L76,133.25 L72,133.25 L68,133.25 L64,133.25 L60,133.25 L56,133.25Z" fill="url(#s14)"/><path d="M56,132.75 L60,132.75 L64,132.75 L68,132.75 L72,132.75 L76,132.75 L80,132.75 L84,132.75 L88,132.75 L92,132.75 L96,132.75 L100,132.75 L104,132.73 L108,132.71 L112,132.68 L116,132.64 L120,132.59 L124,132.53 L128,132.46 L132,132.38 L136,132.29 L140,132.20 L144,132.09 L148,131.97 L152,131.85 L156,131.72 L160,131.57 L164,131.42 L168,131.26 L172,131.09 L176,130.91 L180,130.72 L184,130.52 L188,130.32 L192,130.10 L196,129.88 L200,129.65 L204,129.41 L208,129.16 L212,128.90 L216,128.64 L220,128.37 L224,128.09 L228,127.80 L232,127.50 L236,127.20 L240,126.88 L244,126.56 L248,126.24 L252,125.90 L256,125.56 L260,125.21 L264,124.86 L268,124.49 L272,124.12 L276,123.75 L280,123.36 L284,122.97 L288,122.58 L292,122.18 L296,121.77 L300,121.36 L304,120.94 L308,120.51 L312,120.08 L316,119.64 L320,119.20 L324,118.76 L328,118.31 L332,117.85 L336,117.39 L340,116.92 L344,116.46 L348,115.98 L352,115.50 L356,115.02 L358,114.78 L358,122.74 L356,122.95 L352,123.34 L348,123.73 L344,124.12 L340,124.50 L336,124.87 L332,125.24 L328,125.59 L324,125.94 L320,126.29 L316,126.63 L312,126.96 L308,127.28 L304,127.59 L300,127.90 L296,128.20 L292,128.49 L288,128.77 L284,129.05 L280,129.32 L276,129.58 L272,129.83 L268,130.07 L264,130.30 L260,130.53 L256,130.75 L252,130.96 L248,131.16 L244,131.35 L240,131.53 L236,131.70 L232,131.87 L228,132.02 L224,132.17 L220,132.31 L216,132.43 L212,132.55 L208,132.66 L204,132.76 L200,132.85 L196,132.94 L192,133.01 L188,133.07 L184,133.12 L180,133.17 L176,133.20 L172,133.23 L168,133.24 L164,133.25 L160,133.25 L156,133.25 L152,133.25 L148,133.25 L144,133.25 L140,133.25 L136,133.25 L132,133.25 L128,133.25 L124,133.25 L120,133.25 L116,133.25 L112,133.25 L108,133.25 L104,133.25 L100,133.25 L96,133.25 L92,133.25 L88,133.25 L84,133.25 L80,133.25 L76,133.25 L72,133.25 L68,133.25 L64,133.25 L60,133.25 L56,133.25Z" fill="url(#s15)"/><path d="M56,132.75 L60,132.75 L64,132.75 L68,132.75 L72,132.75 L76,132.75 L80,132.75 L84,132.75 L88,132.75 L92,132.75 L96,132.75 L100,132.75 L104,132.75 L108,132.75 L112,132.75 L116,132.75 L120,132.75 L124,132.75 L128,132.75 L132,132.75 L136,132.75 L140,132.75 L144,132.75 L148,132.75 L152,132.75 L156,132.75 L160,132.75 L164,132.75 L168,132.74 L172,132.73 L176,132.70 L180,132.67 L184,132.62 L188,132.57 L192,132.51 L196,132.44 L200,132.35 L204,132.26 L208,132.16 L212,132.05 L216,131.93 L220,131.81 L224,131.67 L228,131.52 L232,131.37 L236,131.20 L240,131.03 L244,130.85 L248,130.66 L252,130.46 L256,130.25 L260,130.03 L264,129.80 L268,129.57 L272,129.33 L276,129.08 L280,128.82 L284,128.55 L288,128.27 L292,127.99 L296,127.70 L300,127.40 L304,127.09 L308,126.78 L312,126.46 L316,126.13 L320,125.79 L324,125.44 L328,125.09 L332,124.74 L336,124.37 L340,124.00 L344,123.62 L348,123.23 L352,122.84 L356,122.45 L358,122.24 L358,133.17 L356,133.18 L352,133.21 L348,133.24 L344,133.25 L340,133.25 L336,133.25 L332,133.25 L328,133.25 L324,133.25 L320,133.25 L316,133.25 L312,133.25 L308,133.25 L304,133.25 L300,133.25 L296,133.25 L292,133.25 L288,133.25 L284,133.25 L280,133.25 L276,133.25 L272,133.25 L268,133.25 L264,133.25 L260,133.25 L256,133.25 L252,133.25 L248,133.25 L244,133.25 L240,133.25 L236,133.25 L232,133.25 L228,133.25 L224,133.25 L220,133.25 L216,133.25 L212,133.25 L208,133.25 L204,133.25 L200,133.25 L196,133.25 L192,133.25 L188,133.25 L184,133.25 L180,133.25 L176,133.25 L172,133.25 L168,133.25 L164,133.25 L160,133.25 L156,133.25 L152,133.25 L148,133.25 L144,133.25 L140,133.25 L136,133.25 L132,133.25 L128,133.25 L124,133.25 L120,133.25 L116,133.25 L112,133.25 L108,133.25 L104,133.25 L100,133.25 L96,133.25 L92,133.25 L88,133.25 L84,133.25 L80,133.25 L76,133.25 L72,133.25 L68,133.25 L64,133.25 L60,133.25 L56,133.25Z" fill="url(#s16)"/></g>
<path d="M305,93.5 L353.6,91.6 L353.6,100.6 L305,101.5 Z" fill="url(#pocketR)"/>
<path d="M290,125 L353.6,120.4 L353.6,127 L290,129 Z" fill="url(#lowstep)"/>
</g>
<path d="M56,75 L358,73.6 L358,76 L56,77.6 Z" fill="#5a5a5a" opacity="0.6"/>
<path d="M60,80.7 L65.9,75.4 L64.5,90 L60,91 Z" fill="#3a3a3a" opacity="0.75"/>
<path d="M60,121 L64,122 L68,131 L65,132.6 L60,127 Z" fill="#454545" opacity="0.75"/>
</g>
<linearGradient id="landG" gradientUnits="userSpaceOnUse" x1="300" y1="0" x2="345" y2="0"><stop offset="0" stop-color="#c8c4c0" stop-opacity="0"/><stop offset="1" stop-color="#c8c4c0" stop-opacity="0.8"/></linearGradient>
<path d="M300,78 C340,77.6 380,77.8 401.2,78.2 C380,81 340,86 300,91 Z" fill="url(#landG)"/>
<linearGradient id="wedgeG" gradientUnits="userSpaceOnUse" x1="295" y1="0" x2="345" y2="0"><stop offset="0" stop-color="#e8e8e8" stop-opacity="0"/><stop offset="1" stop-color="#ececec"/></linearGradient>
<path d="M295,102.6 C330,101 360,100.8 401.2,104.5 C372,106.2 330,109.5 295,113 Z" fill="url(#wedgeG)"/>
<path d="M353.6,120.4 C372,122 388,125 401.2,128.6 C388,128.2 372,127.6 353.6,127 Z" fill="#c0c0c0"/>
<line x1="353.6" y1="91.6" x2="353.6" y2="100.6" stroke="#2a2a2a" stroke-width="1"/>
<g fill="none" stroke="#1c1c1c" stroke-width="1.45" stroke-linejoin="round"><path d="M90.8,256.5 L90.5,247.1 L93.1,247.1 L100.8,251.2 L103.05,262.6 A18.5,18.5 0 0 0 120.9,280.8"/><path d="M103.05,262.6 L90.8,256.5 M93.1,247.1 L93.1,257.1"/><path d="M120.9,280.8 L130.3,280.5 L130.3,283.1 L126.2,290.8 L114.8,293.05 A18.5,18.5 0 0 0 96.6,310.9"/><path d="M114.8,293.05 L120.9,280.8 M130.3,283.1 L120.3,283.1"/><path d="M96.6,310.9 L96.9,320.3 L94.3,320.3 L86.6,316.2 L84.35,304.8 A18.5,18.5 0 0 0 66.5,286.6"/><path d="M84.35,304.8 L96.6,310.9 M94.3,320.3 L94.3,310.3"/><path d="M66.5,286.6 L57.1,286.9 L57.1,284.3 L61.2,276.6 L72.6,274.35 A18.5,18.5 0 0 0 90.8,256.5"/><path d="M72.6,274.35 L66.5,286.6 M57.1,284.3 L67.1,284.3"/><circle cx="93.7" cy="283.7" r="3.8"/></g><g fill="none" stroke="#1c1c1c" stroke-width="1.45" stroke-linejoin="round"><path d="M94.2,476.3 L94,466.2 L96.5,466.2 L104.6,471.3 L107,482.75 A8.5,8.5 0 0 0 117.95,490.36"/><path d="M107,482.75 L94.2,476.3 M96.5,466.2 L96.6,477"/><path d="M117.95,490.36 L126.6,485.14 L127.85,487.3 L127.48,496.87 L118.77,504.67 A8.5,8.5 0 0 0 117.65,517.96"/><path d="M118.77,504.67 L117.95,490.36 M127.85,487.3 L118.55,492.79"/><path d="M117.65,517.96 L126.5,522.84 L125.25,525 L116.78,529.47 L105.67,525.82 A8.5,8.5 0 0 0 93.6,531.5"/><path d="M105.67,525.82 L117.65,517.96 M125.25,525 L115.85,519.69"/><path d="M93.6,531.5 L93.8,541.6 L91.3,541.6 L83.2,536.5 L80.8,525.05 A8.5,8.5 0 0 0 69.85,517.44"/><path d="M80.8,525.05 L93.6,531.5 M91.3,541.6 L91.2,530.8"/><path d="M69.85,517.44 L61.2,522.66 L59.95,520.5 L60.32,510.93 L69.03,503.13 A8.5,8.5 0 0 0 70.15,489.84"/><path d="M69.03,503.13 L69.85,517.44 M59.95,520.5 L69.25,515.01"/><path d="M70.15,489.84 L61.3,484.96 L62.55,482.8 L71.02,478.33 L82.13,481.98 A8.5,8.5 0 0 0 94.2,476.3"/><path d="M82.13,481.98 L70.15,489.84 M62.55,482.8 L71.95,488.11"/><circle cx="93.9" cy="503.9" r="3.8"/></g><circle cx="58.4" cy="503.9" r="1" fill="#1c1c1c"/><circle cx="129.9" cy="503.9" r="1" fill="#1c1c1c"/><g fill="none" stroke="#1c1c1c" stroke-width="2" stroke-linecap="butt"><polyline points="697.75,261 204,261 200.6,264.5 200.6,387.5"/><polyline points="200.6,303 205,307.5 697.75,307.5"/><polyline points="697.75,261 701.8,264.75 701.8,302.25 697.75,307.5"/><line x1="697.75" y1="261" x2="697.75" y2="307.5" stroke-width="1.6"/><polyline points="200.6,271 205,276.75 330,261"/><polyline points="200.6,283 205,285 390,261"/><line x1="205" y1="276.75" x2="205" y2="285"/><polyline points="200.6,295 205,300 476,261"/><line x1="205" y1="300" x2="205" y2="306.75"/><path d="M205,306.75 L425.75,276.3 C432,274.8 440,274.3 455,274.8 C468,275.3 476,279.5 479,283.9 L308.5,307.5"/><path d="M350,307.5 L425.75,299 C432,297.6 440,297 455,297.6 C468,298.2 476,302.5 479,307.5"/><line x1="425.75" y1="268" x2="425.75" y2="276.3"/><line x1="425.75" y1="291.3" x2="425.75" y2="299"/><line x1="425.75" y1="307.5" x2="425.75" y2="352.4"/><line x1="165" y1="223" x2="165" y2="345"/><line x1="160.6" y1="261" x2="198.75" y2="261"/><line x1="160.6" y1="307.5" x2="198.75" y2="307.5"/><line x1="740.5" y1="223.5" x2="740.5" y2="345"/><line x1="703.3" y1="261" x2="745" y2="261"/><line x1="703.3" y1="307.5" x2="745" y2="307.5"/><line x1="701.5" y1="309" x2="701.5" y2="387.5"/><line x1="201.5" y1="348.2" x2="425.75" y2="348.2"/><line x1="201.5" y1="383" x2="701.5" y2="383"/><line x1="210" y1="256.2" x2="252" y2="211.7"/><path d="M250.76,215.83 A67.5,67.5 0 0 1 268.1,260.41"/></g><polygon points="165,261 162,243 168,243" fill="#1c1c1c"/><polygon points="165,307.5 168,325.5 162,325.5" fill="#1c1c1c"/><polygon points="740.5,261 737.5,243 743.5,243" fill="#1c1c1c"/><polygon points="740.5,307.5 743.5,325.5 737.5,325.5" fill="#1c1c1c"/><polygon points="201.5,348.2 219.5,345.2 219.5,351.2" fill="#1c1c1c"/><polygon points="425.75,348.2 407.75,351.2 407.75,345.2" fill="#1c1c1c"/><polygon points="201.5,383 219.5,380 219.5,386" fill="#1c1c1c"/><polygon points="701.5,383 683.5,386 683.5,380" fill="#1c1c1c"/><polygon points="250.76,215.83 263.38,228.98 258.43,232.36" fill="#1c1c1c"/><polygon points="268.1,260.41 262.58,243.05 268.52,242.2" fill="#1c1c1c"/><path fill="none" stroke="#1c1c1c" stroke-width="1.9" stroke-linecap="butt" stroke-linejoin="miter" transform="translate(304,342.8) rotate(0)" d="M0.95,-20.8 V-0.95 H10.2 M13.3,-13.4 L18.1,-16.9 M18.1,-17.8 V0"/><path fill="none" stroke="#1c1c1c" stroke-width="1.9" stroke-linecap="butt" stroke-linejoin="miter" transform="translate(440.2,377.6) rotate(0)" d="M0.95,-20.8 V-0.95 H10.2 M12.9,-14.2 C13.5,-15.9 15.1,-16.45 17.1,-16.45 C19.7,-16.45 21.45,-14.8 21.45,-12.4 C21.45,-10 19.9,-8.5 17.4,-6.8 C14.7,-5 12.95,-3.2 12.95,-0.95 L22.4,-0.95"/><path fill="none" stroke="#1c1c1c" stroke-width="1.9" stroke-linecap="butt" stroke-linejoin="miter" transform="translate(160,291.25) rotate(-90)" d="M5.75,-0.95 H0.95 V-18.55 H5.75 A8.8,8.8 0 0 1 5.75,-0.95 Z"/><path fill="none" stroke="#1c1c1c" stroke-width="1.9" stroke-linecap="butt" stroke-linejoin="miter" transform="translate(734.75,298.8) rotate(-90)" d="M5.75,-0.95 H0.95 V-18.55 H5.75 A8.8,8.8 0 0 1 5.75,-0.95 Z M20.2,-14.2 C20.8,-15.9 22.4,-16.45 24.4,-16.45 C27,-16.45 28.75,-14.8 28.75,-12.4 C28.75,-10 27.2,-8.5 24.7,-6.8 C22,-5 20.25,-3.2 20.25,-0.95 L29.7,-0.95"/><path fill="none" stroke="#1c1c1c" stroke-width="1.9" stroke-linejoin="round" transform="translate(263.2,218.7) rotate(69)" d="M10.6,0 V-18.7 L0.6,-5.3 H13.5"/><path fill="none" stroke="#1c1c1c" stroke-width="1.9" stroke-linecap="butt" stroke-linejoin="miter" transform="translate(269.6,233.47) rotate(72)" d="M10.6,-18 H2.2 V-9.3 C3.3,-9.9 4.6,-10.1 5.8,-10.1 C9,-10.1 11.4,-7.7 11.4,-4.5 C11.4,-1.3 9,1 6,1 C3.5,1 1.4,-0.4 0.6,-2.6"/><circle cx="290.1" cy="247.4" r="2.5" fill="none" stroke="#1c1c1c" stroke-width="1.7"/><g fill="none" stroke="#1c1c1c" stroke-width="2" stroke-linecap="butt"><polyline points="697.75,481 204,481 200.6,484.5 200.6,607.5"/><polyline points="200.6,523 205,527.5 697.75,527.5"/><polyline points="697.75,481 701.8,484.75 701.8,522.25 697.75,527.5"/><line x1="697.75" y1="481" x2="697.75" y2="527.5" stroke-width="1.6"/><polyline points="200.6,491 205,496.75 330,481"/><polyline points="200.6,503 205,505 390,481"/><line x1="205" y1="496.75" x2="205" y2="505"/><polyline points="200.6,515 205,520 476,481"/><line x1="205" y1="520" x2="205" y2="526.75"/><path d="M205,526.75 L425.75,496.3 C432,494.8 440,494.3 455,494.8 C468,495.3 476,499.5 479,503.9 L308.5,527.5"/><path d="M350,527.5 L425.75,519 C432,517.6 440,517 455,517.6 C468,518.2 476,522.5 479,527.5"/><line x1="425.75" y1="488" x2="425.75" y2="496.3"/><line x1="425.75" y1="511.3" x2="425.75" y2="519"/><line x1="425.75" y1="527.5" x2="425.75" y2="574.7"/><line x1="165" y1="443" x2="165" y2="565"/><line x1="160.6" y1="481" x2="198.75" y2="481"/><line x1="160.6" y1="527.5" x2="198.75" y2="527.5"/><line x1="740.5" y1="443.5" x2="740.5" y2="565"/><line x1="703.3" y1="481" x2="745" y2="481"/><line x1="703.3" y1="527.5" x2="745" y2="527.5"/><line x1="701.5" y1="529" x2="701.5" y2="607.5"/><line x1="201.5" y1="570.5" x2="425.75" y2="570.5"/><line x1="201.5" y1="603" x2="701.5" y2="603"/><line x1="210" y1="476.2" x2="252" y2="431.7"/><path d="M250.76,435.83 A67.5,67.5 0 0 1 268.1,480.41"/></g><polygon points="165,481 162,463 168,463" fill="#1c1c1c"/><polygon points="165,527.5 168,545.5 162,545.5" fill="#1c1c1c"/><polygon points="740.5,481 737.5,463 743.5,463" fill="#1c1c1c"/><polygon points="740.5,527.5 743.5,545.5 737.5,545.5" fill="#1c1c1c"/><polygon points="201.5,570.5 219.5,567.5 219.5,573.5" fill="#1c1c1c"/><polygon points="425.75,570.5 407.75,573.5 407.75,567.5" fill="#1c1c1c"/><polygon points="201.5,603 219.5,600 219.5,606" fill="#1c1c1c"/><polygon points="701.5,603 683.5,606 683.5,600" fill="#1c1c1c"/><polygon points="250.76,435.83 263.38,448.98 258.43,452.36" fill="#1c1c1c"/><polygon points="268.1,480.41 262.58,463.05 268.52,462.2" fill="#1c1c1c"/><path fill="none" stroke="#1c1c1c" stroke-width="1.9" stroke-linecap="butt" stroke-linejoin="miter" transform="translate(304,565.1) rotate(0)" d="M0.95,-20.8 V-0.95 H10.2 M13.3,-13.4 L18.1,-16.9 M18.1,-17.8 V0"/><path fill="none" stroke="#1c1c1c" stroke-width="1.9" stroke-linecap="butt" stroke-linejoin="miter" transform="translate(440.2,597.6) rotate(0)" d="M0.95,-20.8 V-0.95 H10.2 M12.9,-14.2 C13.5,-15.9 15.1,-16.45 17.1,-16.45 C19.7,-16.45 21.45,-14.8 21.45,-12.4 C21.45,-10 19.9,-8.5 17.4,-6.8 C14.7,-5 12.95,-3.2 12.95,-0.95 L22.4,-0.95"/><path fill="none" stroke="#1c1c1c" stroke-width="1.9" stroke-linecap="butt" stroke-linejoin="miter" transform="translate(160,512.25) rotate(-90)" d="M5.75,-0.95 H0.95 V-18.55 H5.75 A8.8,8.8 0 0 1 5.75,-0.95 Z"/><path fill="none" stroke="#1c1c1c" stroke-width="1.9" stroke-linecap="butt" stroke-linejoin="miter" transform="translate(734.75,518.8) rotate(-90)" d="M5.75,-0.95 H0.95 V-18.55 H5.75 A8.8,8.8 0 0 1 5.75,-0.95 Z M20.2,-14.2 C20.8,-15.9 22.4,-16.45 24.4,-16.45 C27,-16.45 28.75,-14.8 28.75,-12.4 C28.75,-10 27.2,-8.5 24.7,-6.8 C22,-5 20.25,-3.2 20.25,-0.95 L29.7,-0.95"/><path fill="none" stroke="#1c1c1c" stroke-width="1.9" stroke-linejoin="round" transform="translate(263.2,438.7) rotate(69)" d="M10.6,0 V-18.7 L0.6,-5.3 H13.5"/><path fill="none" stroke="#1c1c1c" stroke-width="1.9" stroke-linecap="butt" stroke-linejoin="miter" transform="translate(269.6,453.47) rotate(72)" d="M10.6,-18 H2.2 V-9.3 C3.3,-9.9 4.6,-10.1 5.8,-10.1 C9,-10.1 11.4,-7.7 11.4,-4.5 C11.4,-1.3 9,1 6,1 C3.5,1 1.4,-0.4 0.6,-2.6"/><circle cx="290.1" cy="467.4" r="2.5" fill="none" stroke="#1c1c1c" stroke-width="1.7"/></svg>
<div class="w" style="left:188px;top:675.5px">L1:</div>
<div class="w" style="left:240px;top:675.5px">Cutting</div>
<div class="w" style="left:331.5px;top:675.5px">Length</div>
<div class="w" style="left:188px;top:708.5px">L2:</div>
<div class="w" style="left:240px;top:708.5px">Overall</div>
<div class="w" style="left:331.5px;top:708.5px">Length</div>
<div class="w" style="left:462.6px;top:675.5px">D:</div>
<div class="w" style="left:504.75px;top:675.5px">Cutting</div>
<div class="w" style="left:595.8px;top:675.5px">Diameter</div>
<div class="w" style="left:462.6px;top:708.5px">D2:</div>
<div class="w" style="left:519.8px;top:708.5px;transform:scaleX(1.025)">Shank</div>
<div class="w" style="left:601px;top:708.5px">Diameter</div>
</body></html>
